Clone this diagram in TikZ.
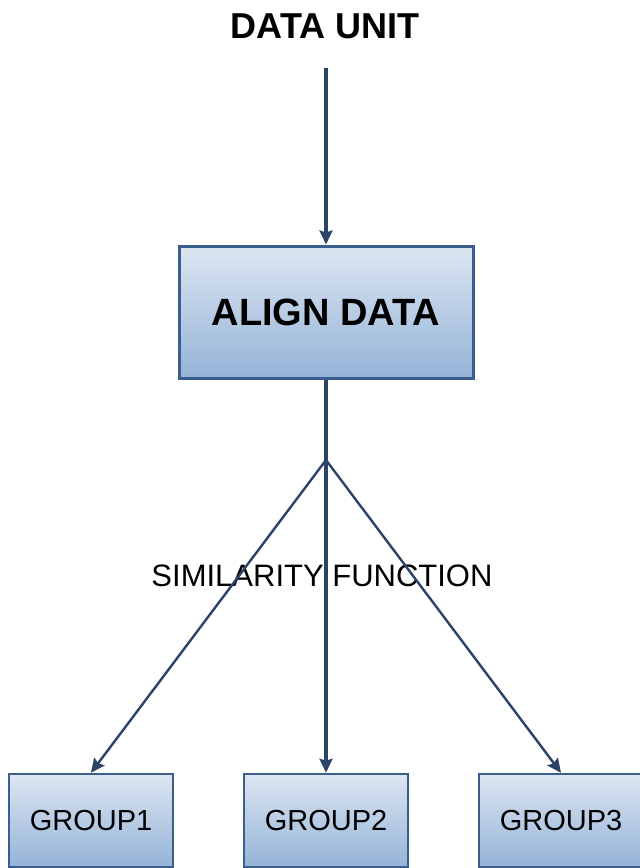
\documentclass[tikz,border=0pt]{standalone}
\usepackage{fontspec}
\setmainfont{Liberation Sans}
\usetikzlibrary{arrows.meta}
\definecolor{boxborder}{HTML}{3A5F8C}
\definecolor{boxtop}{HTML}{DCE6F2}
\definecolor{boxbot}{HTML}{95B3D7}
\definecolor{linecol}{HTML}{2A4468}
\tikzset{
  procbox/.style={draw=boxborder, line width=3pt, top color=boxtop, bottom color=boxbot,
    inner sep=0pt, text=black},
  conn/.style={draw=linecol, -{Stealth[length=14pt,width=13pt,inset=2pt]}},
  lbl/.style={inner sep=0pt, text=black}
}
\begin{document}
\begin{tikzpicture}[x=1pt,y=-1pt]
\useasboundingbox (0,0) rectangle (640,868);
\clip (0,0) rectangle (640,868);
\fill[white] (0,0) rectangle (640,868);

\node[lbl, font=\fontsize{36}{40}\selectfont\bfseries] (title) at (325,26) {DATA UNIT};
\coordinate (start) at (326,68);

\node[procbox, minimum width=294pt, minimum height=132pt,
      font=\fontsize{38}{42}\selectfont\bfseries] (align) at (326,312) {ALIGN DATA};

\coordinate (junc) at (326,460);

\node[lbl, font=\fontsize{31}{34}\selectfont] (sim) at (322,576) {SIMILARITY FUNCTION};

\node[procbox, line width=2.5pt, minimum width=164pt, minimum height=93pt,
      font=\fontsize{29}{32}\selectfont] (g1) at (91,820.5) {GROUP1};
\node[procbox, line width=2.5pt, minimum width=164pt, minimum height=93pt,
      font=\fontsize{29}{32}\selectfont] (g2) at (326,820.5) {GROUP2};
\node[procbox, line width=2.5pt, minimum width=164pt, minimum height=93pt,
      font=\fontsize{29}{32}\selectfont] (g3) at (561,820.5) {GROUP3};

\draw[conn, line width=3.5pt] (start) -- (align.north);
\draw[conn, line width=4pt] (align.south) -- (g2.north);
\draw[conn, line width=2.4pt] (junc) -- (g1.north);
\draw[conn, line width=2.4pt] (junc) -- (g3.north);
\end{tikzpicture}
\end{document}
